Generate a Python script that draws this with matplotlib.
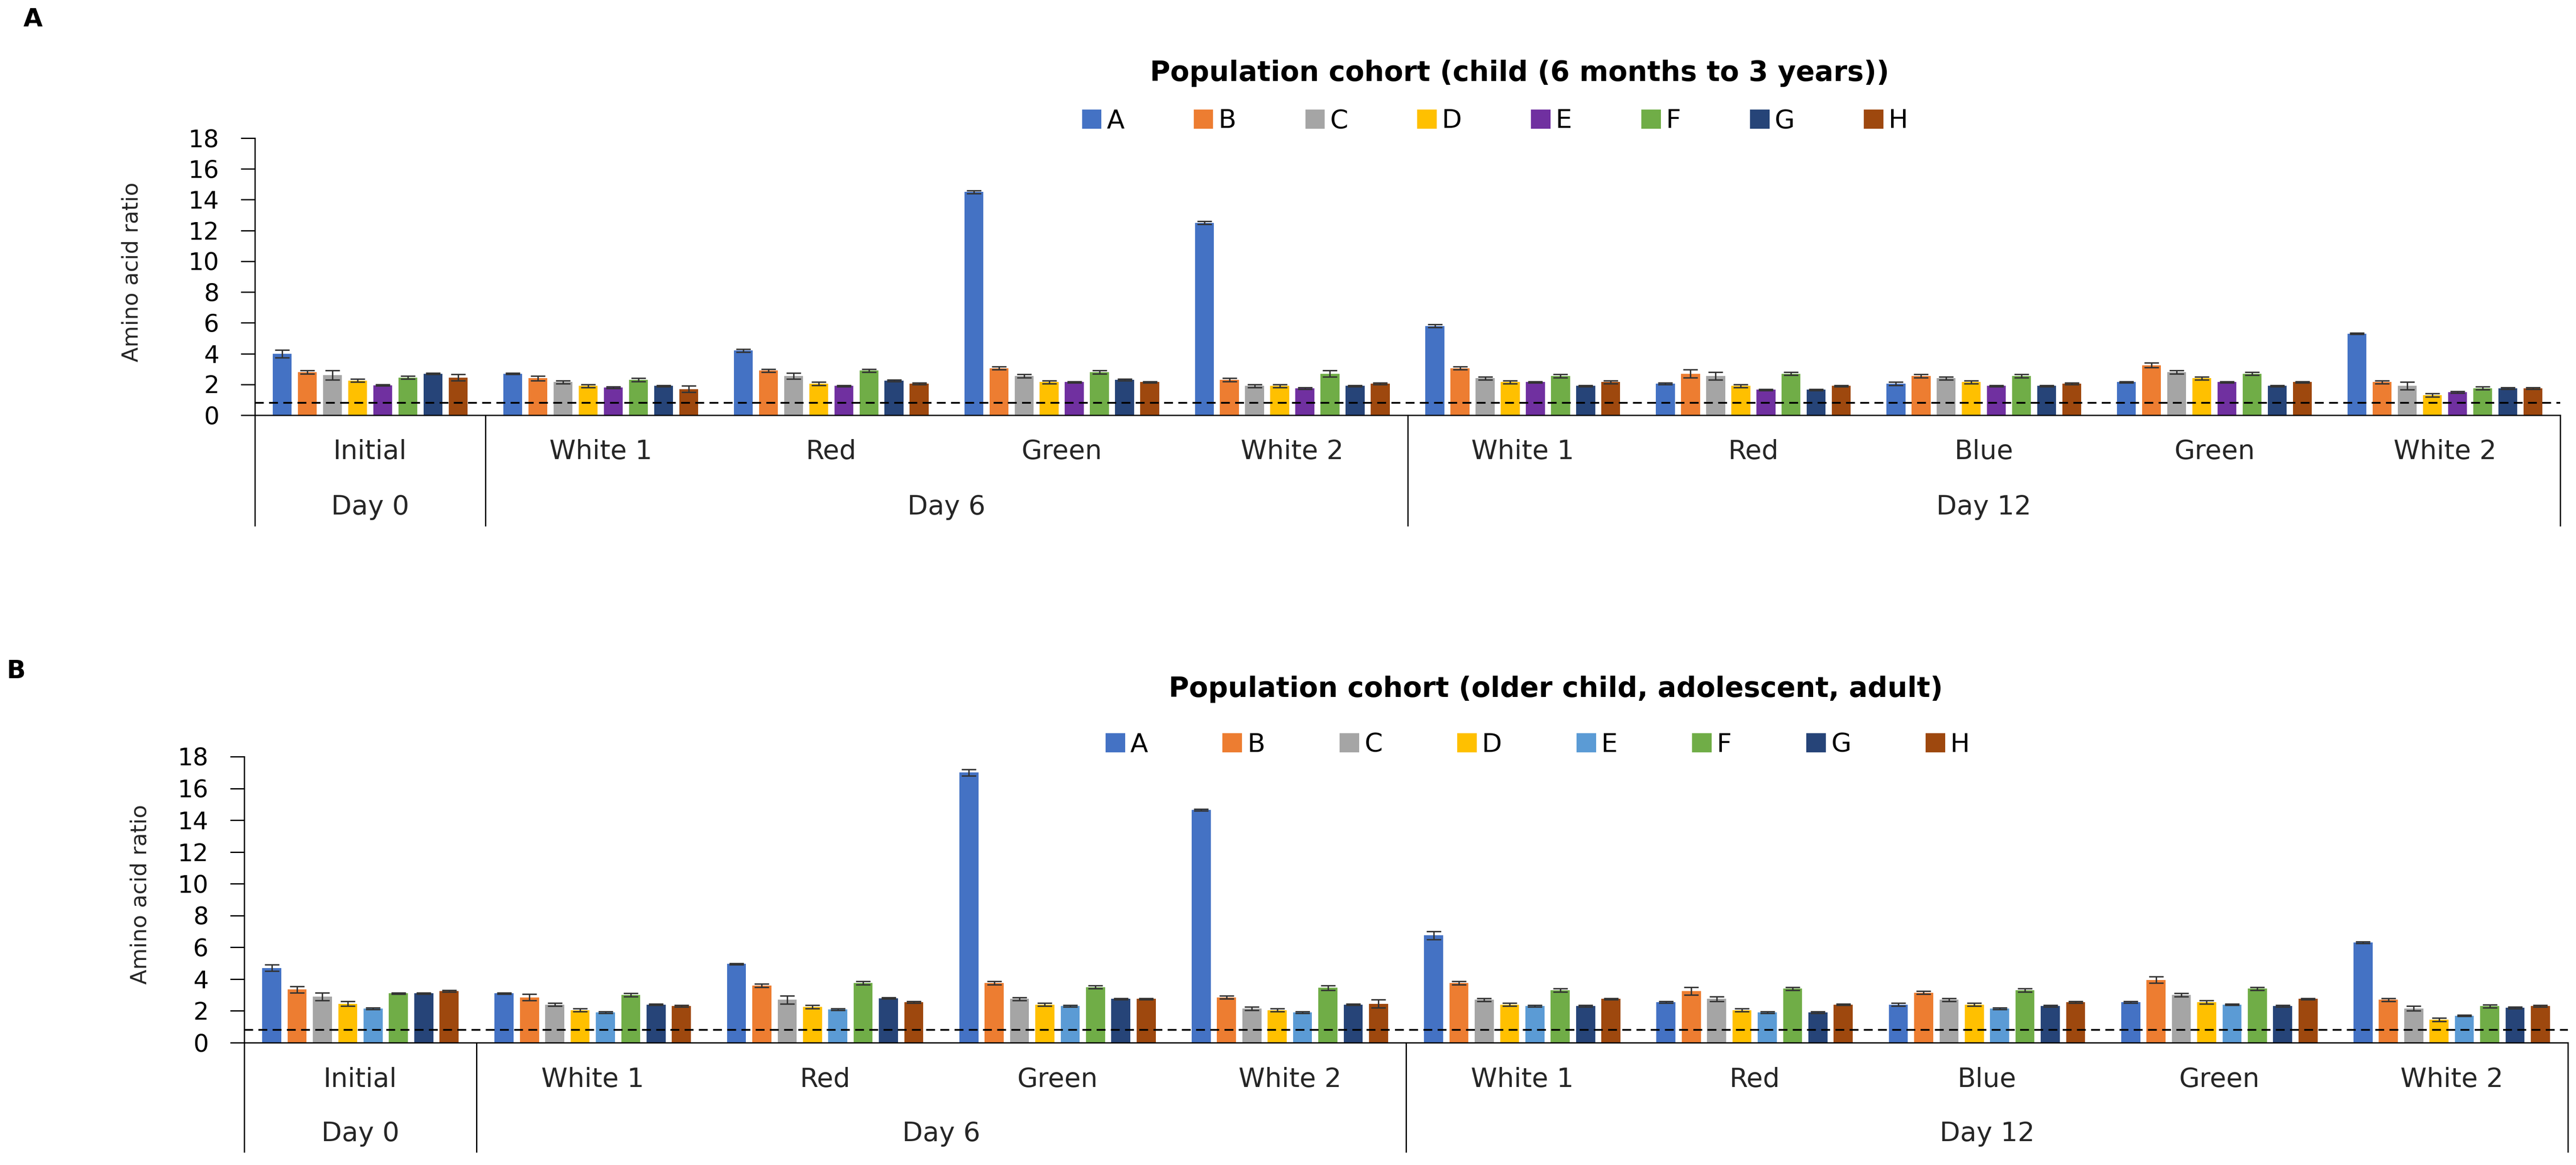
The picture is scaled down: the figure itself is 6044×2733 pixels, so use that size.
import numpy as np
import matplotlib
matplotlib.use('Agg')
import matplotlib.pyplot as plt
from matplotlib.patches import Patch

# x axis: 10 categories grouped by day
CATEGORIES = ['Initial', 'White 1', 'Red', 'Green', 'White 2',
              'White 1', 'Red', 'Blue', 'Green', 'White 2']
DAYS = ['Day 0', 'Day 6', 'Day 12']
DAY_SPANS = [1, 4, 5]
SERIES = ['A', 'B', 'C', 'D', 'E', 'F', 'G', 'H']

YTICKS = list(range(0, 19, 2))
THRESHOLD = 0.8

TITLE_CHILD = 'Population cohort (child (6 months to 3 years))'
TITLE_ADULT = 'Population cohort (older child, adolescent, adult)'

# one row per category, columns A..H
child_values = [
    [4.0, 2.8, 2.6, 2.25, 1.95, 2.45, 2.7, 2.45],
    [2.7, 2.4, 2.15, 1.9, 1.8, 2.3, 1.9, 1.7],
    [4.2, 2.9, 2.55, 2.05, 1.9, 2.9, 2.25, 2.05],
    [14.5, 3.05, 2.55, 2.15, 2.15, 2.8, 2.3, 2.15],
    [12.5, 2.3, 1.9, 1.9, 1.75, 2.7, 1.9, 2.05],
    [5.8, 3.05, 2.4, 2.15, 2.15, 2.55, 1.9, 2.15],
    [2.05, 2.7, 2.55, 1.9, 1.65, 2.7, 1.65, 1.9],
    [2.05, 2.55, 2.4, 2.15, 1.9, 2.55, 1.9, 2.05],
    [2.15, 3.25, 2.8, 2.4, 2.15, 2.7, 1.9, 2.15],
    [5.3, 2.15, 1.9, 1.3, 1.5, 1.75, 1.75, 1.75],
]
child_errors = [
    [0.25, 0.1, 0.3, 0.1, 0.05, 0.1, 0.05, 0.2],
    [0.05, 0.15, 0.1, 0.1, 0.05, 0.1, 0.05, 0.2],
    [0.1, 0.1, 0.2, 0.1, 0.05, 0.1, 0.05, 0.05],
    [0.1, 0.1, 0.1, 0.1, 0.05, 0.1, 0.05, 0.05],
    [0.1, 0.1, 0.1, 0.1, 0.05, 0.2, 0.05, 0.05],
    [0.1, 0.1, 0.1, 0.1, 0.05, 0.1, 0.05, 0.1],
    [0.05, 0.25, 0.25, 0.1, 0.05, 0.1, 0.05, 0.05],
    [0.1, 0.1, 0.1, 0.1, 0.05, 0.1, 0.05, 0.05],
    [0.05, 0.15, 0.1, 0.1, 0.05, 0.1, 0.05, 0.05],
    [0.05, 0.1, 0.25, 0.1, 0.05, 0.1, 0.05, 0.05],
]

adult_values = [
    [4.7, 3.35, 2.9, 2.45, 2.15, 3.1, 3.1, 3.25],
    [3.1, 2.85, 2.4, 2.05, 1.9, 3.0, 2.4, 2.3],
    [4.95, 3.6, 2.7, 2.25, 2.1, 3.75, 2.8, 2.55],
    [17.0, 3.75, 2.75, 2.4, 2.3, 3.5, 2.75, 2.75],
    [14.65, 2.85, 2.15, 2.05, 1.9, 3.45, 2.4, 2.45],
    [6.75, 3.75, 2.7, 2.4, 2.3, 3.3, 2.3, 2.75],
    [2.55, 3.25, 2.75, 2.05, 1.9, 3.4, 1.9, 2.4],
    [2.4, 3.15, 2.7, 2.4, 2.15, 3.3, 2.3, 2.55],
    [2.55, 3.95, 3.0, 2.55, 2.4, 3.4, 2.3, 2.75],
    [6.3, 2.7, 2.15, 1.45, 1.7, 2.3, 2.2, 2.3],
]
adult_errors = [
    [0.2, 0.2, 0.25, 0.15, 0.05, 0.05, 0.05, 0.05],
    [0.05, 0.2, 0.1, 0.1, 0.05, 0.1, 0.05, 0.05],
    [0.05, 0.1, 0.25, 0.1, 0.05, 0.1, 0.05, 0.05],
    [0.2, 0.1, 0.1, 0.1, 0.05, 0.1, 0.05, 0.05],
    [0.05, 0.1, 0.1, 0.1, 0.05, 0.15, 0.05, 0.25],
    [0.25, 0.1, 0.1, 0.1, 0.05, 0.1, 0.05, 0.05],
    [0.05, 0.25, 0.15, 0.1, 0.05, 0.1, 0.05, 0.05],
    [0.1, 0.1, 0.1, 0.1, 0.05, 0.1, 0.05, 0.05],
    [0.05, 0.2, 0.1, 0.1, 0.05, 0.1, 0.05, 0.05],
    [0.05, 0.1, 0.15, 0.1, 0.05, 0.1, 0.05, 0.05],
]

COLORS_CHILD = ['#4472C4', '#ED7D31', '#A5A5A5', '#FFC000',
                '#7030A0', '#70AD47', '#264478', '#9E480E']
COLORS_ADULT = ['#4472C4', '#ED7D31', '#A5A5A5', '#FFC000',
                '#5B9BD5', '#70AD47', '#264478', '#9E480E']

W, H = 6044, 2733
FONT = 'DejaVu Sans'


def px_axes(left, right, top, bottom):
    return [left / W, 1 - bottom / H, (right - left) / W, (bottom - top) / H]


def draw_panel(fig, rect, values, errors, colors, title, title_xy,
               legend_xy, legend_spacing, ylabel_xy, letter, letter_xy,
               depth, cat_y, day_y):
    ax = fig.add_axes(rect)
    values = np.array(values)
    errors = np.array(errors)
    n_cat = len(CATEGORIES)
    pitch = 0.109
    width = 0.082
    base = np.arange(n_cat) + 0.5

    for j, name in enumerate(SERIES):
        x = base + (j - 3.5) * pitch
        ax.bar(x, values[:, j], width=width, color=colors[j], zorder=2)
        ax.errorbar(x, values[:, j], yerr=errors[:, j], fmt='none',
                    ecolor='#333333', elinewidth=2.4, capsize=12,
                    capthick=2.4, zorder=3)

    ax.axhline(THRESHOLD, color='black', lw=3.0, ls=(0, (5, 3)), zorder=4)

    ax.set_xlim(0, n_cat)
    ax.set_ylim(0, 18)
    ax.set_yticks(YTICKS)
    ax.set_yticklabels([str(t) for t in YTICKS], fontsize=41, family=FONT)
    ax.set_xticks([])
    ax.tick_params(axis='y', length=24, width=2.2, pad=36)
    for side in ['top', 'right']:
        ax.spines[side].set_visible(False)
    for side in ['left', 'bottom']:
        ax.spines[side].set_linewidth(2.2)

    # category table below the axis
    trans = ax.get_xaxis_transform()
    edges = np.concatenate([[0], np.cumsum(DAY_SPANS)])
    for e in edges:
        ax.plot([e, e], [0, -depth], transform=trans, color='black',
                lw=2.2, clip_on=False)
    for i, cat in enumerate(CATEGORIES):
        ax.text(i + 0.5, cat_y, cat, transform=trans, ha='center',
                va='center', fontsize=45, family=FONT, color='#262626')
    for k, day in enumerate(DAYS):
        ax.text((edges[k] + edges[k + 1]) / 2, day_y, day, transform=trans,
                ha='center', va='center', fontsize=45, family=FONT,
                color='#262626')

    fig.text(title_xy[0] / W, 1 - title_xy[1] / H, title, ha='center',
             va='center', fontsize=47, fontweight='bold', family=FONT)
    fig.text(ylabel_xy[0] / W, 1 - ylabel_xy[1] / H, 'Amino acid ratio',
             rotation=90, ha='center', va='center', fontsize=37,
             family=FONT, color='#262626')
    fig.text(letter_xy[0] / W, 1 - letter_xy[1] / H, letter, ha='center',
             va='center', fontsize=42, fontweight='bold', family=FONT)

    handles = [Patch(facecolor=c, label=s) for c, s in zip(colors, SERIES)]
    fig.legend(handles=handles, loc='center', ncol=len(SERIES),
               bbox_to_anchor=(legend_xy[0] / W, 1 - legend_xy[1] / H),
               frameon=False, prop={'family': FONT, 'size': 44},
               handlelength=0.75, handleheight=0.75, handletextpad=0.2,
               columnspacing=legend_spacing)
    return ax


def main():
    fig = plt.figure(figsize=(W / 100, H / 100), dpi=100)
    fig.patch.set_facecolor('white')

    # PANEL A
    draw_panel(fig, px_axes(598, 6007, 324, 974), child_values, child_errors,
               COLORS_CHILD, TITLE_CHILD, (3565, 172), (3508, 284), 2.65,
               (310, 638), 'A', (77, 46), 0.398, -0.132, -0.332)

    # PANEL B
    draw_panel(fig, px_axes(573, 6025, 1775, 2446), adult_values, adult_errors,
               COLORS_ADULT, TITLE_ADULT, (3650, 1617), (3608, 1747), 2.86,
               (329, 2098), 'B', (38, 1574), 0.381, -0.130, -0.319)

    fig.savefig('out.png', dpi=100)


if __name__ == '__main__':
    main()
